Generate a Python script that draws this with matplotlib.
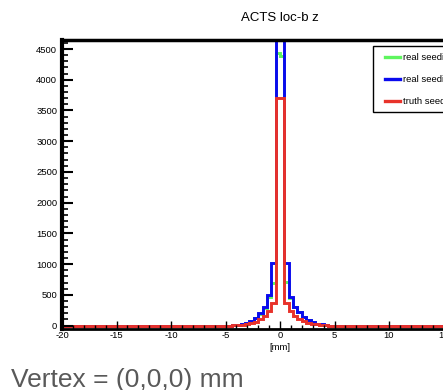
import numpy as np
import matplotlib.pyplot as plt
from matplotlib.ticker import MultipleLocator, FormatStrFormatter
from matplotlib.lines import Line2D
from matplotlib.patches import Rectangle

plt.rcParams['axes.unicode_minus'] = False
sans = ['Liberation Sans', 'DejaVu Sans']

# histogram: 100 bins of 0.4 mm from -20 to 20, only the bins from -4.4 to 4.4 are filled
x_min, x_max, n_bins = -20.0, 20.0, 100
filled_from = -4.4

green_vals = [8, 14, 24, 43, 76, 124, 190, 285, 470, 700, 4440,
              4380, 705, 455, 295, 215, 138, 90, 52, 28, 17, 9]
blue_vals = [8, 15, 25, 45, 80, 130, 200, 300, 490, 1010, 5200,
             5100, 1020, 470, 310, 225, 145, 95, 55, 30, 18, 10]
red_vals = [6, 10, 15, 25, 40, 65, 100, 150, 230, 360, 3705,
            3700, 370, 240, 160, 105, 70, 45, 28, 18, 10, 6]

labels = ['real seeding, all tracks', 'real seeding, matched tracks', 'truth seeded tracks']
colors = ['#5ef55e', '#0a0aee', '#e8322a']

edges = np.linspace(x_min, x_max, n_bins + 1)
width = edges[1] - edges[0]


def full_hist(vals):
    h = np.zeros(n_bins)
    i0 = int(round((filled_from - x_min) / width))
    h[i0:i0 + len(vals)] = vals
    return h


W, H = 443, 390
fig = plt.figure(figsize=(W / 100, H / 100), dpi=100)
fig.patch.set_facecolor('white')

# the pad runs past the right edge of the picture (cropped slide)
ax = fig.add_axes([62 / W, (H - 328.5) / H, 436 / W, 289 / H])

for vals, c in zip([green_vals, blue_vals, red_vals], colors):
    ax.stairs(full_hist(vals), edges, color=c, lw=2.1, baseline=None)

ax.set_xlim(x_min, x_max)
ax.set_ylim(-48, 4655)

ax.xaxis.set_major_locator(MultipleLocator(5))
ax.xaxis.set_minor_locator(MultipleLocator(1))
ax.yaxis.set_major_locator(MultipleLocator(500))
ax.yaxis.set_minor_locator(MultipleLocator(100))
ax.xaxis.set_major_formatter(FormatStrFormatter('%d'))
ax.yaxis.set_major_formatter(FormatStrFormatter('%d'))

ax.tick_params(axis='x', which='major', direction='in', length=6, width=1.0, pad=1.5)
ax.tick_params(axis='x', which='minor', direction='in', length=3, width=1.0)
ax.tick_params(axis='y', which='major', direction='in', length=8, width=1.5, pad=3.5)
ax.tick_params(axis='y', which='minor', direction='in', length=4, width=1.2)
ax.tick_params(top=False, right=False, which='both')
for lab in ax.get_xticklabels() + ax.get_yticklabels():
    lab.set_family(sans)
    lab.set_fontsize(6.8)

ax.spines['left'].set_linewidth(3)
ax.spines['top'].set_linewidth(2.5)
ax.spines['bottom'].set_linewidth(2.0)
for s in ax.spines.values():
    s.set_zorder(3)

fig.text(280 / W, 1 - 18 / H, 'ACTS loc-b z', ha='center', va='center',
         fontsize=9.5, family=sans)
fig.text(280 / W, 1 - 348 / H, '[mm]', ha='center', va='center',
         fontsize=6.8, family=sans)

# legend box (cut by the picture edge)
fig.add_artist(Rectangle((373.3 / W, 1 - 112 / H), 120 / W, 66 / H,
                         transform=fig.transFigure, facecolor='white',
                         edgecolor='black', lw=1.0))
for i, (lab, c) in enumerate(zip(labels, colors)):
    yy = 1 - (57 + 22 * i) / H
    fig.add_artist(Line2D([385 / W, 400 / W], [yy, yy], transform=fig.transFigure,
                          color=c, lw=2.4))
    fig.text(403 / W, yy, lab, ha='left', va='center', fontsize=6.8, family=sans)

fig.text(11 / W, 3.3 / H, 'Vertex = (0,0,0) mm', ha='left', va='baseline',
         fontsize=19, color='#595959', family='Liberation Sans')

fig.savefig('out.png', dpi=100)
